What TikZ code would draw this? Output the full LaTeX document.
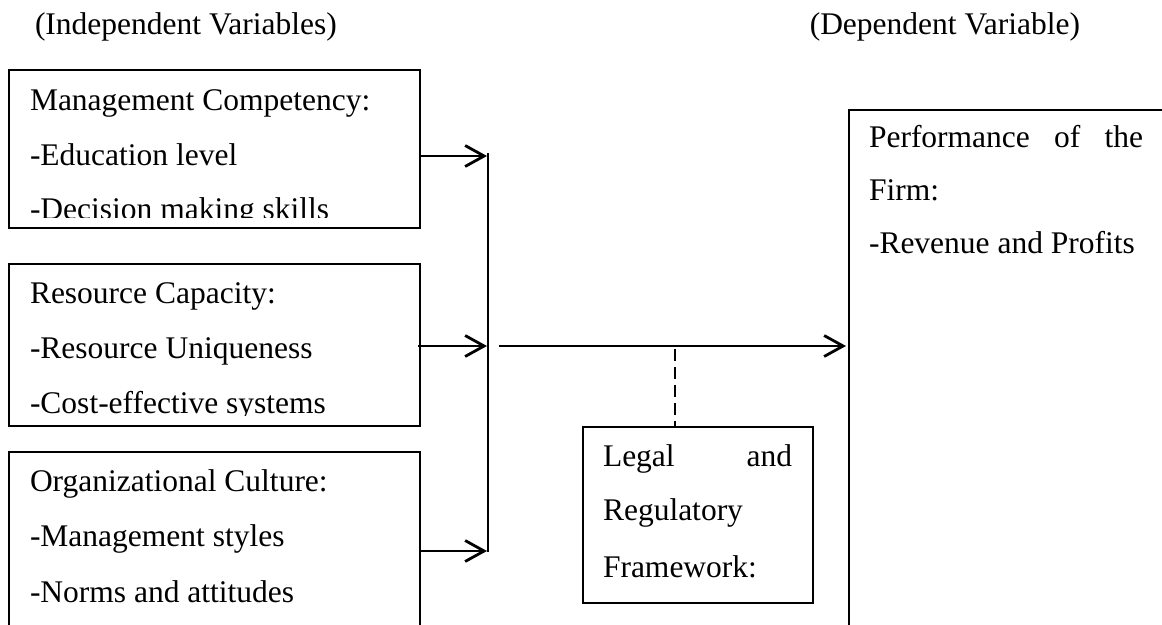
\documentclass[tikz,border=0pt]{standalone}
\usepackage{fontspec}
\setmainfont{Liberation Serif}
\usetikzlibrary{arrows.meta}
\begin{document}
\begin{tikzpicture}[x=1pt,y=1pt,
  box/.style={draw=black, line width=1.3pt, anchor=north west, inner sep=0pt, outer sep=0pt},
  txt/.style={anchor=base west, inner sep=0pt, outer sep=0pt, font=\fontsize{31.5}{54}\selectfont},
  conn/.style={line width=2.8pt, -{Straight Barb[length=19pt,width=21pt]}},
  barline/.style={line width=2.8pt},
  dashline/.style={line width=2.8pt, dash pattern=on 12pt off 6pt}
]
\useasboundingbox (0,0) rectangle (1162,-624);
\clip (0,0) rectangle (1162,-624);

% headers
\node[txt] (hind) at (35,-34) {(Independent Variables)};
\node[txt, anchor=base east] (hdep) at (1080,-34) {(Dependent Variable)};

% boxes
\node[box, minimum width=411pt, minimum height=158pt] (mc) at (9,-70) {};
\node[box, minimum width=411pt, minimum height=162pt] (rc) at (9,-264) {};
\node[box, minimum width=411pt, minimum height=220pt] (oc) at (9,-452) {};
\node[box, minimum width=230pt, minimum height=176pt] (lr) at (583,-427) {};
\node[box, minimum width=340pt, minimum height=560pt] (pf) at (849,-110) {};

% box 1 text (clipped)
\begin{scope}
\clip (10,-71) rectangle (419,-217);
\node[txt] (mc1) at (30,-110) {Management Competency:};
\node[txt] (mc2) at (30,-165) {-Education level};
\node[txt] (mc3) at (30,-219.5) {-Decision making skills};
\end{scope}

% box 2 text (clipped)
\begin{scope}
\clip (10,-265) rectangle (419,-415);
\node[txt] (rc1) at (30,-303) {Resource Capacity:};
\node[txt] (rc2) at (30,-358) {-Resource Uniqueness};
\node[txt] (rc3) at (30,-413) {-Cost-effective systems};
\end{scope}

% box 3 text
\node[txt] (oc1) at (30,-491) {Organizational Culture:};
\node[txt] (oc2) at (30,-546) {-Management styles};
\node[txt] (oc3) at (30,-602) {-Norms and attitudes};

% legal box text
\node[txt] (lr1) at (603,-466) {\makebox[189pt][s]{Legal and}};
\node[txt] (lr2) at (603,-520) {Regulatory};
\node[txt] (lr3) at (603,-577) {Framework:};

% performance box text
\node[txt] (pf1) at (869,-147) {\makebox[274pt][s]{Performance of the}};
\node[txt] (pf2) at (869,-200) {Firm:};
\node[txt] (pf3) at (869,-253) {-Revenue and Profits};

% connectors
\coordinate (jtop) at (488,-153);
\coordinate (jbot) at (488,-552);
\coordinate (j1) at (487,-156);
\coordinate (j2) at (487,-346);
\coordinate (j3) at (487,-551);
\coordinate (s2) at (418,-346);
\coordinate (m0) at (499,-346);
\coordinate (m1) at (846,-346);
\coordinate (d0) at (675,-349);

\draw[barline] (jtop) -- (jbot);
\draw[conn] (mc.east |- j1) -- (j1);
\draw[conn] (s2) -- (j2);
\draw[conn] (oc.east |- j3) -- (j3);
\draw[conn] (m0) -- (m1);
\draw[dashline] (d0) -- (d0 |- lr.north);
\end{tikzpicture}
\end{document}
